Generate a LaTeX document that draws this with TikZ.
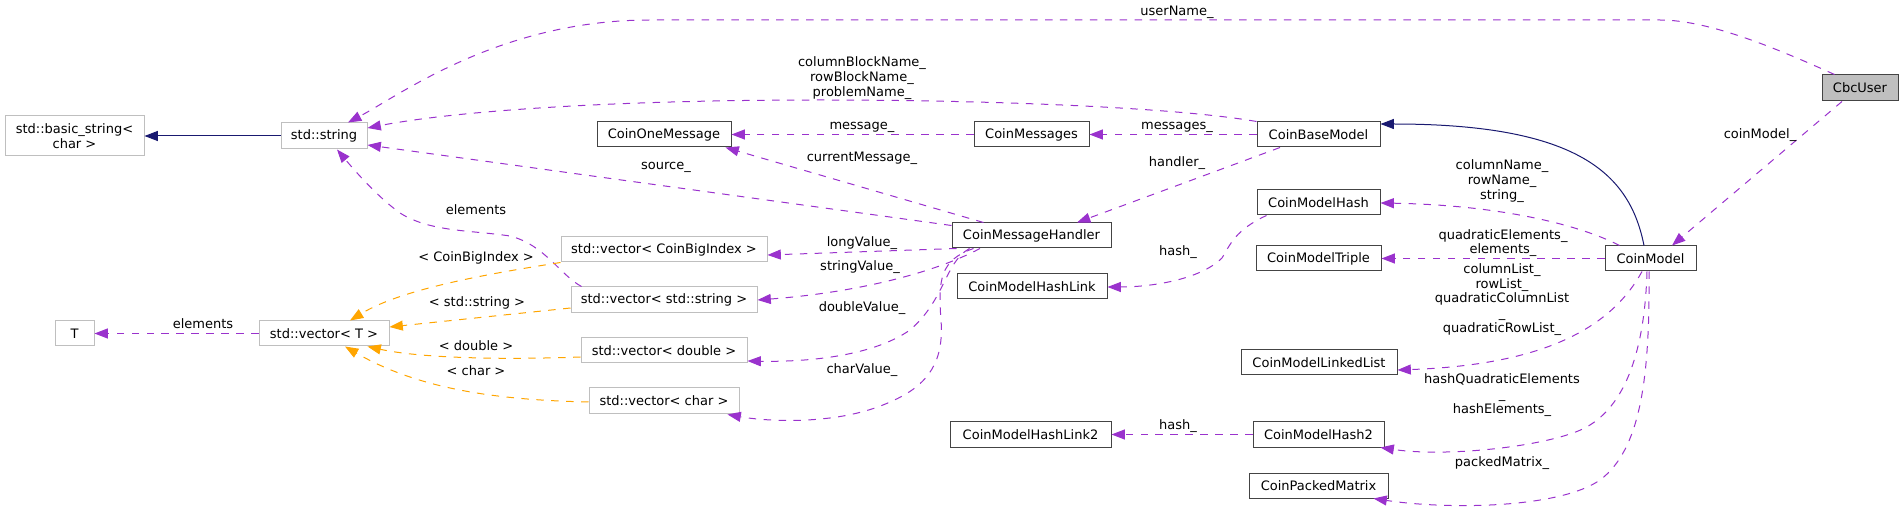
\documentclass[tikz,border=0pt]{standalone}
\usepackage{fontspec}
\setmainfont{DejaVu Sans}
\usetikzlibrary{arrows.meta,calc}
\definecolor{depc}{HTML}{9A32CD}
\definecolor{tmplc}{HTML}{FFA500}
\definecolor{inhc}{HTML}{191970}
\definecolor{docc}{HTML}{444444}
\definecolor{undocc}{HTML}{BFBFBF}
\definecolor{cbcfill}{HTML}{BFBFBF}
\begin{document}
\begin{tikzpicture}[x=0.75pt,y=-0.75pt,
  font=\fontsize{9.75pt}{11pt}\selectfont,
  cls/.style={draw=docc, line width=0.75pt, fill=white, inner sep=0pt, align=center},
  ucls/.style={draw=undocc, line width=0.75pt, fill=white, inner sep=0pt, align=center},
  sz/.style 2 args={minimum width=#1*0.75pt, minimum height=#2*0.75pt},
  lbl/.style={inner sep=0pt, align=center, text=black},
  dep/.style={draw=depc, line width=0.75pt, dash pattern=on 5.6pt off 5.6pt, -{Triangle[length=10pt,width=7.5pt]}},
  tmpl/.style={draw=tmplc, line width=0.75pt, dash pattern=on 5.6pt off 5.6pt, -{Triangle[length=10pt,width=7.5pt]}},
  inh/.style={draw=inhc, line width=0.75pt, -{Triangle[length=10pt,width=7.5pt]}}
]
\useasboundingbox (0,0) rectangle (1904,513);

% nodes
\node[ucls,sz={139}{40}] (bstr) at (74.5,136) {std::basic\_string<\\char >};
\node[ucls,sz={86}{26}] (str) at (324,136) {std::string};
\node[ucls,sz={39}{25}] (T) at (74.5,333.5) {T};
\node[ucls,sz={130}{25}] (vecT) at (324,333.5) {std::vector< T >};
\node[ucls,sz={206}{25}] (vCBI) at (664,249.5) {std::vector< CoinBigIndex >};
\node[ucls,sz={186}{26}] (vStr) at (664,300) {std::vector< std::string >};
\node[ucls,sz={166}{25}] (vDbl) at (664,350.5) {std::vector< double >};
\node[ucls,sz={150}{26}] (vChar) at (664,401) {std::vector< char >};
\node[cls,sz={134}{25}] (COM) at (664,134.5) {CoinOneMessage};
\node[cls,sz={115}{25}] (CMs) at (1031.5,134.5) {CoinMessages};
\node[cls,sz={159}{25}] (CMH) at (1031.5,235.5) {CoinMessageHandler};
\node[cls,sz={150}{25}] (CMHL) at (1032,286.5) {CoinModelHashLink};
\node[cls,sz={161}{25}] (CMHL2) at (1030.5,434.5) {CoinModelHashLink2};
\node[cls,sz={123}{25}] (CBM) at (1318.5,134.5) {CoinBaseModel};
\node[cls,sz={123}{25}] (CMHash) at (1318.5,202.5) {CoinModelHash};
\node[cls,sz={125}{25}] (CMT) at (1318.5,258.5) {CoinModelTriple};
\node[cls,sz={156}{25}] (CMLL) at (1319,362.5) {CoinModelLinkedList};
\node[cls,sz={131}{25}] (CMH2) at (1318.5,434.5) {CoinModelHash2};
\node[cls,sz={139}{25}] (CPM) at (1318.5,485.5) {CoinPackedMatrix};
\node[cls,sz={91}{25}] (CM) at (1650.5,258.5) {CoinModel};
\node[cls,fill=cbcfill,sz={76}{26}] (CU) at (1860,88) {CbcUser};

% edges
\draw[dep] ($(CU.north west)+(13,0)$) .. controls (1780,50) and (1710,20) .. (1660,20) -- (650,20) .. controls (500,20) and (400,95) .. ($(str.north)+(24,0)$);
\draw[dep] ($(CU.south)+(-18,0)$) -- ($(CM.north)+(21.5,0)$);
\draw[dep] (CBM.north west) .. controls (1180,108) and (1000,100) .. (820,100) .. controls (600,100) and (450,112) .. ($(str.east)+(0,-8)$);
\draw[dep] ($(CMH.west)+(0,-10)$) -- ($(str.east)+(0,9)$);
\draw[dep] ($(CMH.north)+(-48,0)$) -- ($(COM.south east)+(-6,0)$);
\draw[dep] (CMs.west) -- (COM.east);
\draw[dep] (CBM.west) -- (CMs.east);
\draw[dep] ($(CBM.south)+(-38.5,0)$) -- ($(CMH.north)+(45.5,0)$);
\draw[dep] ($(CMH.south west)+(5,0)$) -- ($(vCBI.east)+(0,5.5)$);
\draw[dep] ($(CMH.south)+(-51.5,0)$) .. controls (930,275) and (850,293) .. (vStr.east);
\draw[dep] ($(CMH.south)+(-62,0)$) .. controls (945,262) and (945,300) .. (910,330) .. controls (870,358) and (800,362) .. ($(vDbl.east)+(0,10.5)$);
\draw[dep] ($(CMH.south)+(-58,0)$) .. controls (940,260) and (938,280) .. (941,320) .. controls (944,360) and (930,385) .. (890,402) .. controls (840,425) and (770,422) .. ($(vChar.south east)+(-12,0)$);
\draw[dep] ($(vStr.north west)+(11,0)$) .. controls (560,275) and (545,245) .. (510,236) .. controls (470,230) and (430,232) .. (400,213) .. controls (375,195) and (350,165) .. ($(str.south)+(13,0)$);
\draw[dep] (vecT.west) -- (T.east);

\draw[tmpl] (vCBI.south west) .. controls (480,275) and (400,290) .. ($(vecT.north)+(26,0)$);
\draw[tmpl] ($(vStr.west)+(0,8)$) -- ($(vecT.east)+(0,-6.5)$);
\draw[tmpl] ($(vDbl.west)+(0,6.5)$) .. controls (500,360) and (420,358) .. ($(vecT.south east)+(-22,0)$);
\draw[tmpl] ($(vChar.west)+(0,1)$) .. controls (500,400) and (420,390) .. ($(vecT.south)+(21,0)$);

\draw[inh] (str.west) -- (bstr.east);
\draw[inh] ($(CM.north)+(-6.5,0)$) .. controls (1630,175) and (1580,124) .. ($(CBM.east)+(0,-10.5)$);

\draw[dep] ($(CM.north west)+(15,0)$) .. controls (1580,225) and (1500,205) .. ($(CMHash.east)+(0,0.5)$);
\draw[dep] (CM.west) -- (CMT.east);
\draw[dep] ($(CM.south)+(-8.5,0)$) .. controls (1610,330) and (1540,365) .. ($(CMLL.east)+(0,7.5)$);
\draw[dep] ($(CM.south)+(-3.5,0)$) .. controls (1645,340) and (1630,400) .. (1590,425) .. controls (1560,445) and (1450,458) .. ($(CMH2.south east)+(-4,0)$);
\draw[dep] ($(CM.south)+(-1.5,0)$) .. controls (1650,380) and (1640,450) .. (1600,480) .. controls (1560,508) and (1450,510) .. ($(CPM.south east)+(-15,0)$);
\draw[dep] ($(CMHash.south west)+(10,0)$) .. controls (1235,230) and (1230,245) .. (1222,258) .. controls (1200,280) and (1150,287) .. ($(CMHL.east)+(0,0.5)$);
\draw[dep] (CMH2.west) -- (CMHL2.east);

% labels
\node[lbl] (l1) at (1177,12) {userName\_};
\node[lbl] (l2) at (1760,135) {coinModel\_};
\node[lbl] (l3) at (862,78) {columnBlockName\_\\rowBlockName\_\\problemName\_};
\node[lbl] (l4) at (666,167) {source\_};
\node[lbl] (l5) at (862,158) {currentMessage\_};
\node[lbl] (l6) at (862,127) {message\_};
\node[lbl] (l7) at (1177,127) {messages\_};
\node[lbl] (l8) at (1177,163) {handler\_};
\node[lbl] (l9) at (862,243) {longValue\_};
\node[lbl] (l10) at (860,267) {stringValue\_};
\node[lbl] (l11) at (862,308) {doubleValue\_};
\node[lbl] (l12) at (862,370) {charValue\_};
\node[lbl] (l13) at (476,210) {elements};
\node[lbl] (l14) at (203,324) {elements};
\node[lbl] (l15) at (476,258) {< CoinBigIndex >};
\node[lbl] (l16) at (477,303) {< std::string >};
\node[lbl] (l17) at (476,346) {< double >};
\node[lbl] (l18) at (476,371) {< char >};
\node[lbl] (l19) at (1502,181) {columnName\_\\rowName\_\\string\_};
\node[lbl] (l20) at (1503,243) {quadraticElements\_\\elements\_};
\node[lbl] (l21) at (1502,299.5) {columnList\_\\rowList\_\\quadraticColumnList\\\_\\quadraticRowList\_};
\node[lbl] (l22) at (1502,395) {hashQuadraticElements\\\_\\hashElements\_};
\node[lbl] (l23) at (1502,463) {packedMatrix\_};
\node[lbl] (l24) at (1178,252) {hash\_};
\node[lbl] (l25) at (1178,426) {hash\_};
\end{tikzpicture}
\end{document}
